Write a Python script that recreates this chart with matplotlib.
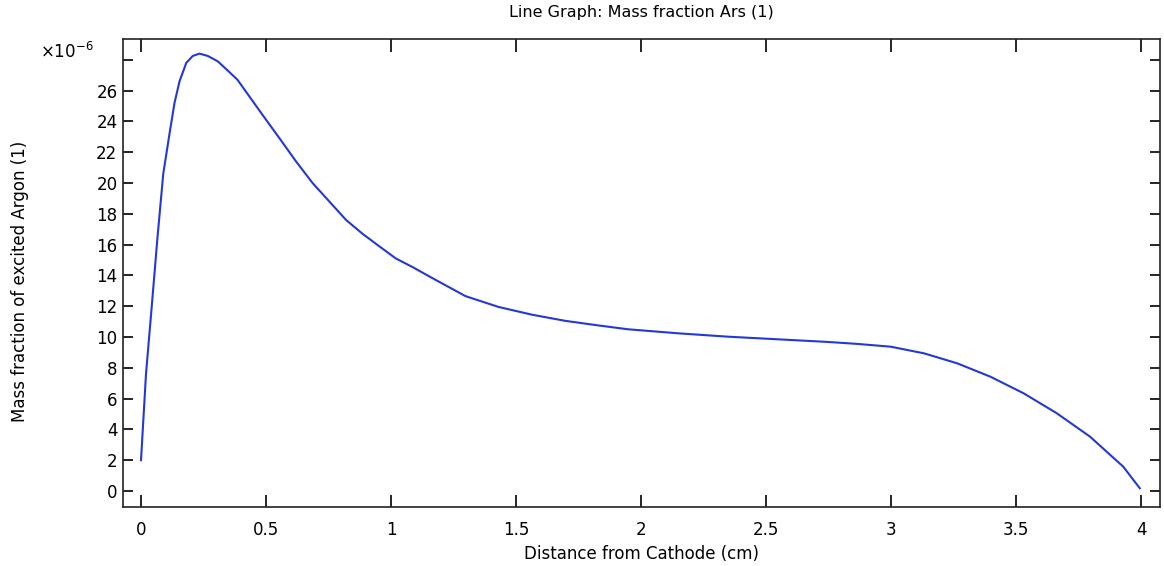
import matplotlib
matplotlib.use('Agg')
import matplotlib.pyplot as plt

# distance from cathode (cm) and mass fraction (x1e-6)
distance = [0.0, 0.02, 0.043, 0.065, 0.089, 0.114, 0.134, 0.154, 0.181, 0.207,
            0.234, 0.267, 0.307, 0.347, 0.386, 0.421, 0.487, 0.554, 0.62, 0.686,
            0.753, 0.82, 0.886, 0.952, 1.019, 1.085, 1.151, 1.23, 1.298, 1.43,
            1.563, 1.696, 1.829, 1.948, 2.147, 2.347, 2.546, 2.745, 2.865, 2.998,
            3.131, 3.264, 3.397, 3.53, 3.662, 3.795, 3.928, 3.994]
mass_frac = [2.0, 7.6, 12.0, 16.3, 20.6, 23.2, 25.2, 26.6, 27.8, 28.25,
             28.4, 28.25, 27.9, 27.3, 26.7, 25.9, 24.4, 22.9, 21.4, 20.0,
             18.8, 17.6, 16.7, 15.9, 15.1, 14.55, 13.95, 13.25, 12.65, 11.95,
             11.45, 11.05, 10.75, 10.5, 10.24, 10.02, 9.85, 9.68, 9.55, 9.37,
             8.94, 8.29, 7.42, 6.34, 5.05, 3.53, 1.58, 0.18]

x_ticks = [0, 0.5, 1, 1.5, 2, 2.5, 3, 3.5, 4]
x_tick_labels = ['0', '0.5', '1', '1.5', '2', '2.5', '3', '3.5', '4']
y_ticks = list(range(0, 30, 2))
y_tick_labels = [str(v) for v in y_ticks[:-1]] + ['']  # 28 label hidden by the exponent

fig = plt.figure(figsize=(11.64, 5.66), dpi=100)
ax = fig.add_axes([123 / 1164, 1 - 507 / 566, (1160 - 123) / 1164, (507 - 39) / 566])

ax.plot(distance, mass_frac, color='#2438d6', linewidth=1.5)

ax.set_xlim(-0.072, 4.075)
ax.set_ylim(-1.04, 29.35)
ax.set_xticks(x_ticks)
ax.set_xticklabels(x_tick_labels)
ax.set_yticks(y_ticks)
ax.set_yticklabels(y_tick_labels)
ax.tick_params(axis='x', direction='in', length=9, width=1.2, top=True, labelsize=12, pad=10)
ax.tick_params(axis='y', direction='in', length=7, width=1.2, right=True, labelsize=12, pad=4)
for sp in ax.spines.values():
    sp.set_linewidth(1.2)
    sp.set_color('#222222')

ax.set_xlabel('Distance from Cathode (cm)', fontsize=12)
ax.xaxis.set_label_coords(0.5, -0.081)
ax.set_ylabel('Mass fraction of excited Argon (1)', fontsize=12)
ax.yaxis.set_label_coords(-0.0906, 0.483)
fig.text(0.5 + 0.5 * (123 - 4) / 1164, 1 - 12 / 566, 'Line Graph: Mass fraction Ars (1)',
         fontsize=11.5, ha='center', va='center')

fig.text(40 / 1164, 1 - 52 / 566, r'$\times10^{-6}$', fontsize=12, va='center', ha='left')

fig.savefig('out.png', dpi=100)
